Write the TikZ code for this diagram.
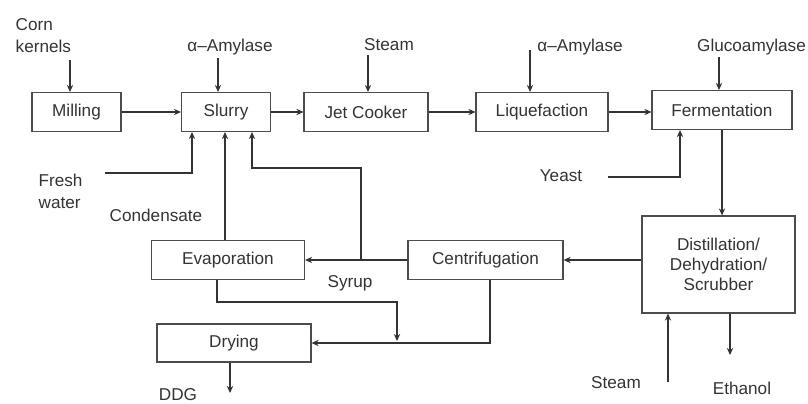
\documentclass[tikz,border=0pt]{standalone}
\usepackage{fontspec}
\setmainfont{Liberation Sans}
\usetikzlibrary{arrows.meta}

\begin{document}
\begin{tikzpicture}[x=0.025cm, y=-0.025cm, >={Stealth[length=5pt,width=4.5pt]},
  unit/.style={draw=black!70, line width=0.8pt, minimum height=0.975cm, inner sep=2pt, text=black!80, font=\fontsize{12.2}{15.6}\selectfont},
  lbl/.style={text=black!80, inner sep=1pt, font=\fontsize{12.2}{15.6}\selectfont},
  flow/.style={line width=1pt, draw=black!80}]
\useasboundingbox (0,0) rectangle (808,403);

% process units
\node[unit, minimum width=2.225cm] (milling) at (76.5,112) {Milling};
\node[unit, minimum width=2.225cm] (slurry) at (226,112) {Slurry};
\node[unit, minimum width=3.1cm] (jet) at (366,112) {Jet Cooker};
\node[unit, minimum width=3.3cm] (liq) at (542,112) {Liquefaction};
\node[unit, minimum width=3.5cm] (ferm) at (722,110) {Fermentation};
\node[unit, minimum width=3.825cm, minimum height=2.425cm, align=center,
  font=\fontsize{12.2}{14.2}\selectfont] (dist) at (718.5,264.5) {Distillation/\\Dehydration/\\Scrubber};
\node[unit, minimum width=3.875cm] (centr) at (485.5,260) {Centrifugation};
\node[unit, minimum width=3.825cm] (evap) at (228,260) {Evaporation};
\node[unit, minimum width=3.85cm, minimum height=0.95cm] (drying) at (234,343) {Drying};

% feeds and products
\node[lbl, anchor=west, align=left] (kernels) at (14,35.5) {Corn\\kernels};
\node[lbl] (amy1) at (230,47) {α–Amylase};
\node[lbl] (steam1) at (389,45) {Steam};
\node[lbl] (amy2) at (580,47) {α–Amylase};
\node[lbl] (gluco) at (751.5,47) {Glucoamylase};
\node[lbl] (yeast) at (561,176) {Yeast};
\node[lbl, anchor=west, align=left] (fresh) at (37,191) {Fresh\\water};
\node[lbl] (cond) at (156,215) {Condensate};
\node[lbl] (syrup) at (350,283) {Syrup};
\node[lbl] (ddg) at (178,395) {DDG};
\node[lbl] (steam2) at (616,383) {Steam};
\node[lbl] (ethanol) at (742,388) {Ethanol};

\coordinate (kin) at (70,60);
\coordinate (a1in) at (218,58);
\coordinate (s1in) at (368,55);
\coordinate (a2in) at (530,50);
\coordinate (gin) at (719,57);
\coordinate (fwin) at (105,173);
\coordinate (yin) at (608,177);
\coordinate (s2in) at (668,382);
\coordinate (syr) at (361,260);
\coordinate (cnd) at (225,0);

\path[flow, every edge/.append style={->}]
(milling) edge (slurry)
(slurry) edge (jet)
(jet) edge (liq)
(liq.east) edge (liq.east -| ferm.west)
(kin) edge (kin |- milling.north)
(a1in) edge (a1in |- slurry.north)
(s1in) edge (s1in |- jet.north)
(a2in) edge (a2in |- liq.north)
(gin) edge (gin |- ferm.north)
(ferm.south) edge (ferm.south |- dist.north)
(dist.west |- centr) edge (centr.east)
(centr) edge (evap)
(s2in) edge (s2in |- dist.south)
;
\draw[flow,->] (cnd |- evap.north) -- (cnd |- slurry.south);
\draw[flow,->] (730,0 |- dist.south) -- (730,355);
\draw[flow,->] (230,0 |- drying.south) -- (230,393);
\draw[flow,->] (fwin) -| (192,0 |- slurry.south);
\draw[flow,->] (yin) -| (680,0 |- ferm.south);
\draw[flow,->] (syr) |- (300,168) -| (252,0 |- slurry.south);
\draw[flow,->] (217,0 |- evap.south) |- (397,302) -- (397,341);
\draw[flow,->] (490,0 |- centr.south) |- (drying.east);
\end{tikzpicture}
\end{document}
